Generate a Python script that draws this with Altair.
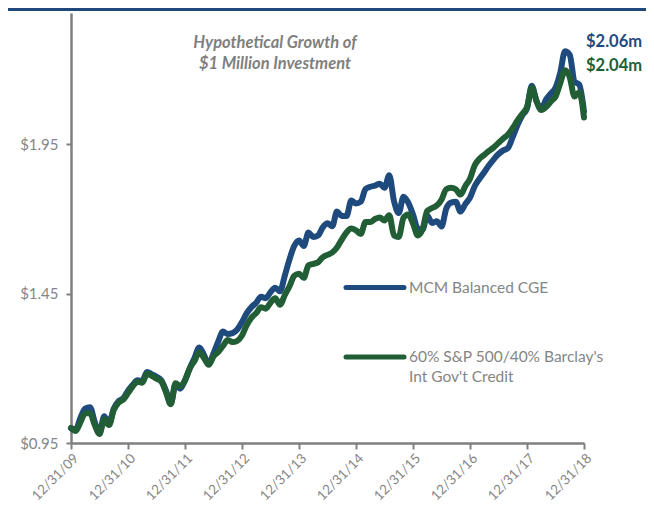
import json
import altair as alt
import pandas as pd

# ---------------- data ----------------
months = list(range(109))  # month index: 0 = 12/31/09 ... 108 = 12/31/18

mcm_balanced = [
    1.00, 0.995, 1.035, 1.065, 1.07, 1.02, 0.985, 1.04, 1.015, 1.065,
    1.09, 1.10, 1.125, 1.145, 1.16, 1.158, 1.188, 1.18, 1.172, 1.16,
    1.125, 1.082, 1.145, 1.132, 1.16, 1.20, 1.235, 1.27, 1.245, 1.215,
    1.25, 1.29, 1.323, 1.315, 1.318, 1.33, 1.355, 1.385, 1.405, 1.42,
    1.44, 1.435, 1.455, 1.47, 1.458, 1.51, 1.565, 1.61, 1.628, 1.61,
    1.655, 1.64, 1.645, 1.672, 1.686, 1.676, 1.725, 1.71, 1.71, 1.762,
    1.752, 1.758, 1.80, 1.808, 1.812, 1.818, 1.805, 1.847, 1.76, 1.72,
    1.775, 1.755, 1.715, 1.668, 1.665, 1.712, 1.687, 1.693, 1.675, 1.735,
    1.755, 1.758, 1.725, 1.75, 1.772, 1.81, 1.835, 1.857, 1.88, 1.90,
    1.918, 1.93, 1.938, 1.975, 2.015, 2.047, 2.07, 2.146, 2.095, 2.068,
    2.10, 2.12, 2.14, 2.19, 2.262, 2.25, 2.16, 2.15, 2.06,
]

benchmark = [
    1.00, 0.99, 1.02, 1.05, 1.05, 1.01, 0.98, 1.03, 1.01, 1.06,
    1.085, 1.095, 1.117, 1.14, 1.155, 1.152, 1.182, 1.175, 1.165, 1.156,
    1.12, 1.08, 1.15, 1.14, 1.16, 1.20, 1.225, 1.255, 1.235, 1.212,
    1.24, 1.255, 1.275, 1.295, 1.288, 1.292, 1.31, 1.345, 1.37, 1.385,
    1.405, 1.40, 1.42, 1.435, 1.413, 1.445, 1.475, 1.51, 1.517, 1.503,
    1.545, 1.55, 1.555, 1.572, 1.58, 1.588, 1.605, 1.631, 1.655, 1.668,
    1.662, 1.650, 1.69, 1.69, 1.70, 1.705, 1.695, 1.713, 1.645, 1.64,
    1.704, 1.715, 1.685, 1.645, 1.665, 1.727, 1.737, 1.745, 1.765, 1.80,
    1.805, 1.80, 1.782, 1.81, 1.835, 1.88, 1.902, 1.915, 1.928, 1.94,
    1.955, 1.97, 1.983, 2.005, 2.03, 2.052, 2.075, 2.14, 2.095, 2.065,
    2.075, 2.093, 2.11, 2.155, 2.198, 2.175, 2.11, 2.125, 2.04,
]

series_names = ["MCM Balanced CGE", "60% S&P 500/40% Barclay's Int Gov't Credit"]
tick_months = [0, 12, 24, 36, 48, 60, 72, 84, 96, 108]
tick_labels = ["12/31/09", "12/31/10", "12/31/11", "12/31/12", "12/31/13",
               "12/31/14", "12/31/15", "12/31/16", "12/31/17", "12/31/18"]
y_ticks = [0.95, 1.45, 1.95]
title_lines = ["Hypothetical Growth of", "$1 Million Investment"]
end_labels = ["$2.06m", "$2.04m"]
legend_lines_1 = ["MCM Balanced CGE"]
legend_lines_2 = ["60% S&P 500/40% Barclay's", "Int Gov't Credit"]

BLUE = "#1F4A7E"
GREEN = "#215E36"
GRAY = "#7f7f7f"
LABEL_GRAY = "#858585"
FONT = "Lato"

W, H = 513, 430
PAD_L, PAD_T, PAD_R, PAD_B = 63, 5, 62, 60

df_mcm = pd.DataFrame({"month": months, "value": mcm_balanced})
df_bm = pd.DataFrame({"month": months, "value": benchmark})

label_expr = json.dumps(tick_labels) + "[round(datum.value / 12)]"

x_enc = alt.X(
    "month:Q",
    scale=alt.Scale(domain=[0, 108], nice=False, zero=False),
    axis=alt.Axis(values=tick_months, labelExpr=label_expr, labelAngle=-45,
                  title=None, grid=False, labelFontSize=13.5, labelColor=LABEL_GRAY,
                  labelFont=FONT, domainColor=GRAY, domainWidth=2.5,
                  tickColor=GRAY, tickWidth=2, tickSize=6, labelPadding=2,
                  labelOverlap=False),
)
y_enc = alt.Y(
    "value:Q",
    scale=alt.Scale(domain=[0.95, 2.39], nice=False, zero=False),
    axis=alt.Axis(values=y_ticks, format="$.2f", title=None, grid=False,
                  labelFontSize=15, labelColor=LABEL_GRAY, labelFont=FONT,
                  domainColor=GRAY, domainWidth=2.5, tickColor=GRAY,
                  tickWidth=2, tickSize=5, labelPadding=8),
)

line_style = dict(strokeWidth=6, strokeCap="round", strokeJoin="round",
                  interpolate="monotone")

blue_line = alt.Chart(df_mcm).mark_line(color=BLUE, **line_style).encode(x=x_enc, y=y_enc)
green_line = alt.Chart(df_bm).mark_line(color=GREEN, **line_style).encode(x="month:Q", y="value:Q")

one = pd.DataFrame({"k": [0]})

top_border = alt.Chart(one).mark_rule(color="#1F497D", strokeWidth=3).encode(
    x=alt.value(-PAD_L), x2=alt.value(W + PAD_R), y=alt.value(-3.5))

title_text = alt.Chart(one).mark_text(
    font=FONT, fontSize=16.5, fontStyle="italic", fontWeight="bold",
    color=GRAY, align="center", baseline="middle", lineHeight=21,
).encode(x=alt.value(204), y=alt.value(30), text=alt.value(title_lines))

end_blue = alt.Chart(one).mark_text(
    font=FONT, fontSize=16.5, fontWeight="bold", color=BLUE,
    align="left", baseline="middle").encode(
    x=alt.value(515), y=alt.value(28.5), text=alt.value(end_labels[0]))
end_green = alt.Chart(one).mark_text(
    font=FONT, fontSize=16.5, fontWeight="bold", color=GREEN,
    align="left", baseline="middle").encode(
    x=alt.value(515), y=alt.value(52.5), text=alt.value(end_labels[1]))

leg_rule_1 = alt.Chart(one).mark_rule(color=BLUE, strokeWidth=5, strokeCap="round").encode(
    x=alt.value(275), x2=alt.value(333), y=alt.value(274.5))
leg_rule_2 = alt.Chart(one).mark_rule(color=GREEN, strokeWidth=5, strokeCap="round").encode(
    x=alt.value(275), x2=alt.value(333), y=alt.value(344))
leg_text_1 = alt.Chart(one).mark_text(
    font=FONT, fontSize=15.5, color=LABEL_GRAY, align="left", baseline="middle").encode(
    x=alt.value(338), y=alt.value(274.5), text=alt.value(legend_lines_1))
leg_text_2 = alt.Chart(one).mark_text(
    font=FONT, fontSize=15.5, color=LABEL_GRAY, align="left", baseline="middle",
    lineHeight=20).encode(
    x=alt.value(338), y=alt.value(344), text=alt.value(legend_lines_2))

chart = alt.layer(
    top_border, blue_line, green_line, title_text, end_blue, end_green,
    leg_rule_1, leg_rule_2, leg_text_1, leg_text_2,
).properties(
    width=W, height=H,
    autosize=alt.AutoSizeParams(type="none"),
    padding={"left": PAD_L, "top": PAD_T, "right": PAD_R, "bottom": PAD_B},
    background="white",
).configure_view(stroke=None)

chart.save("out.html", embed_options={"renderer": "svg", "actions": False})
